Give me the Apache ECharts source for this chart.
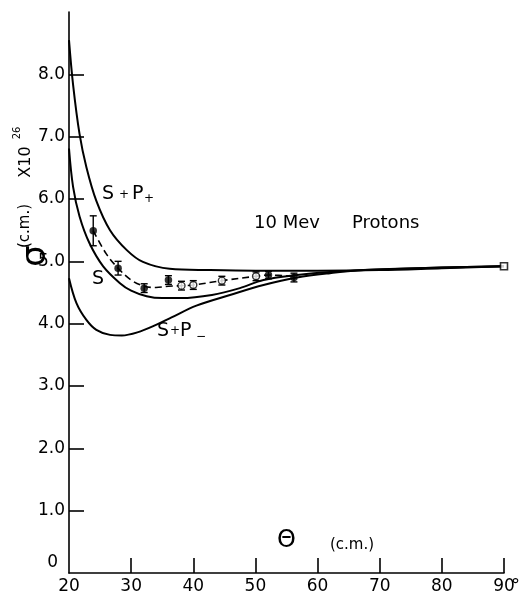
<!DOCTYPE html>
<html><head><meta charset="utf-8">
<script src="https://cdn.jsdelivr.net/npm/echarts@6/dist/echarts.min.js"></script>
<style>html,body{margin:0;padding:0;background:#fff}#c{width:526px;height:595px}</style>
</head><body><div id="c"></div>
<script>
// ---- data ----
const xTicks = [20, 30, 40, 50, 60, 70, 80, 90];
const yTicks = [1, 2, 3, 4, 5, 6, 7, 8];

const spPlusTheta = [20, 20.65, 21.7, 22.8, 24.4, 26.6, 29.3, 31.9, 36.2, 42.7, 50, 60, 70, 80, 90];
const spPlusSigma = [8.55, 7.84, 7.04, 6.51, 5.97, 5.50, 5.18, 4.99, 4.88, 4.86, 4.85, 4.85, 4.86, 4.89, 4.92];

const sTheta = [20, 20.65, 21.7, 23.3, 25.5, 28.2, 30, 32.5, 35, 38, 43, 47.5, 51.3, 56.7, 62, 70, 80, 90];
const sSigma = [6.81, 6.2, 5.72, 5.29, 4.92, 4.65, 4.53, 4.44, 4.41, 4.41, 4.46, 4.57, 4.70, 4.78, 4.83, 4.87, 4.90, 4.92];

const spMinusTheta = [20, 21.2, 22.8, 24.4, 26.6, 28.5, 31, 34, 36.5, 40.5, 45.9, 51.3, 56.7, 62, 67.4, 80, 90];
const spMinusSigma = [4.73, 4.33, 4.06, 3.90, 3.82, 3.81, 3.86, 3.98, 4.10, 4.29, 4.46, 4.62, 4.74, 4.81, 4.86, 4.90, 4.92];

const fitTheta = [23.9, 26, 27.9, 30, 32.1, 34, 36, 38.1, 40, 44.6, 50.1, 52.1, 56.2];
const fitSigma = [5.49, 5.12, 4.89, 4.70, 4.60, 4.58, 4.60, 4.61, 4.62, 4.69, 4.76, 4.78, 4.76];

const filledTheta = [23.9, 27.9, 32.1, 36, 52.1, 56.2];
const filledSigma = [5.49, 4.89, 4.57, 4.70, 4.78, 4.74];
const filledErr = [0.24, 0.11, 0.07, 0.07, 0.06, 0.07];

const openTheta = [38.1, 40, 44.6, 50.1];
const openSigma = [4.61, 4.62, 4.69, 4.76];
const openErr = [0.07, 0.07, 0.07, 0.07];

const squareTheta = [90];
const squareSigma = [4.92];

// ---- chart ----
const FONT = 'DejaVu Sans';
const zip = (a, b) => a.map((v, i) => [v, b[i]]);
const zip3 = (a, b, c) => a.map((v, i) => [v, b[i], c[i]]);

const chart = echarts.init(document.getElementById('c'), null, {renderer: 'canvas'});

function errRender(params, api) {
  const x = api.value(0), y = api.value(1), e = api.value(2);
  const top = api.coord([x, y + e]);
  const bot = api.coord([x, y - e]);
  const w = 3.5;
  return {
    type: 'group',
    children: [
      {type: 'line', shape: {x1: top[0], y1: top[1], x2: bot[0], y2: bot[1]}, style: {stroke: '#000', lineWidth: 1.4}},
      {type: 'line', shape: {x1: top[0] - w, y1: top[1], x2: top[0] + w, y2: top[1]}, style: {stroke: '#000', lineWidth: 1.4}},
      {type: 'line', shape: {x1: bot[0] - w, y1: bot[1], x2: bot[0] + w, y2: bot[1]}, style: {stroke: '#000', lineWidth: 1.4}}
    ]
  };
}

const curveStyle = {color: '#000', width: 2};
function txt(x, y, text, size, align) {
  return {type: 'text', x: x, y: y, style: {text: text, font: size + 'px ' + FONT, fill: '#000', align: align || 'left', verticalAlign: 'middle'}};
}
function rtxt(x, y, text, size) {
  return {type: 'text', x: x, y: y, rotation: Math.PI / 2, style: {text: text, font: size + 'px ' + FONT, fill: '#000', align: 'center', verticalAlign: 'middle'}};
}

const option = {
  backgroundColor: '#fff',
  animation: false,
  grid: {left: 69, right: 22, top: 12, bottom: 22},
  xAxis: {
    type: 'value', min: 20, max: 90, interval: 10,
    axisLine: {show: true, lineStyle: {color: '#000', width: 1.6}},
    axisTick: {show: true, inside: true, length: 15, customValues: [30, 40, 50, 60, 70, 80, 90], lineStyle: {color: '#000', width: 1.6}},
    axisLabel: {customValues: xTicks, color: '#000', fontFamily: FONT, fontSize: 17, margin: 5,
      formatter: v => String(v)},
    splitLine: {show: false}
  },
  yAxis: {
    type: 'value', min: 0, max: 9, interval: 1,
    axisLine: {show: true, lineStyle: {color: '#000', width: 1.6}},
    axisTick: {show: true, inside: true, length: 15, customValues: yTicks, lineStyle: {color: '#000', width: 1.6}},
    axisLabel: {customValues: yTicks, color: '#000', fontFamily: FONT, fontSize: 17, margin: 4,
      formatter: v => v.toFixed(1)},
    splitLine: {show: false}
  },
  series: [
    {type: 'line', name: 'S+P+', data: zip(spPlusTheta, spPlusSigma), smooth: 0.35, showSymbol: false, lineStyle: curveStyle, z: 2},
    {type: 'line', name: 'S', data: zip(sTheta, sSigma), smooth: 0.35, showSymbol: false, lineStyle: curveStyle, z: 2},
    {type: 'line', name: 'S+P-', data: zip(spMinusTheta, spMinusSigma), smooth: 0.35, showSymbol: false, lineStyle: curveStyle, z: 2},
    {type: 'line', name: 'fit', data: zip(fitTheta, fitSigma), smooth: 0.35, showSymbol: false,
      lineStyle: {color: '#000', width: 1.6, type: [7, 4]}, z: 3},
    {type: 'custom', name: 'errF', data: zip3(filledTheta, filledSigma, filledErr), renderItem: errRender, z: 4},
    {type: 'custom', name: 'errO', data: zip3(openTheta, openSigma, openErr), renderItem: errRender, z: 4},
    {type: 'scatter', name: 'filled', data: zip(filledTheta, filledSigma), symbol: 'circle', symbolSize: 7.5,
      itemStyle: {color: '#000'}, z: 5},
    {type: 'scatter', name: 'open', data: zip(openTheta, openSigma), symbol: 'circle', symbolSize: 7,
      itemStyle: {color: '#fff', borderColor: '#000', borderWidth: 1.4}, z: 5},
    {type: 'scatter', name: 'square', data: zip(squareTheta, squareSigma), symbol: 'rect', symbolSize: 7,
      itemStyle: {color: '#fff', borderColor: '#000', borderWidth: 1.6}, z: 5}
  ],
  graphic: [
    txt(511, 586, '°', 18),
    txt(58, 563, '0', 17, 'right'),
    // S + P+
    txt(102, 194, 'S', 19), txt(119, 195, '+', 12), txt(132, 194, 'P', 19), txt(144, 199, '+', 12),
    // S
    txt(92, 279, 'S', 19),
    // S + P-
    txt(157, 331, 'S', 19), txt(170, 331, '+', 12), txt(180, 331, 'P', 19), txt(196, 337, '−', 12),
    // annotation
    txt(254, 223, '10 Mev', 18), txt(352, 223, 'Protons', 18),
    // x axis title
    txt(277, 541, 'Θ', 24), txt(330, 545, '(c.m.)', 15),
    // y axis title (rotated)
    rtxt(36, 256, 'σ', 34), rtxt(25, 226, '(c.m.)', 15), rtxt(26, 162, 'X10', 16), rtxt(17, 133, '26', 10)
  ]
};
chart.setOption(option);
</script>
</body></html>
